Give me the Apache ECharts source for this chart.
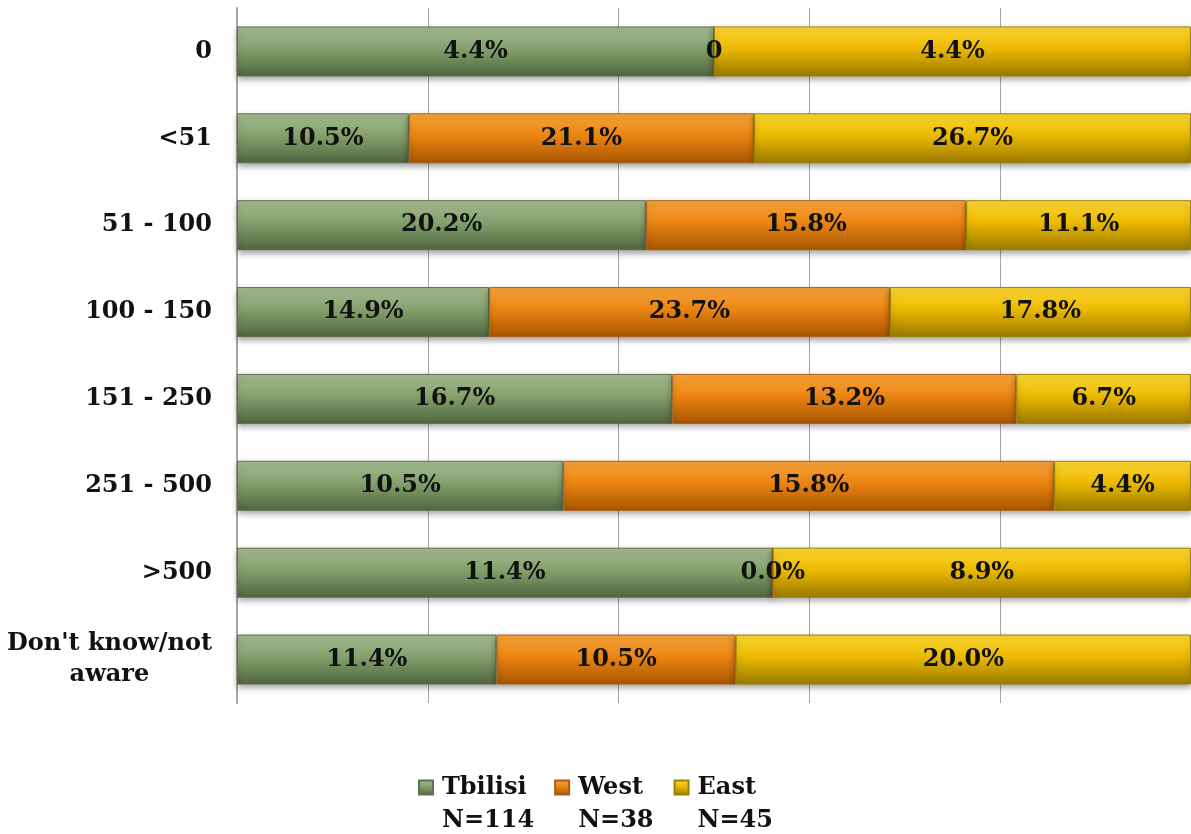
<!DOCTYPE html>
<html>
<head>
<meta charset="utf-8">
<script src="https://cdn.jsdelivr.net/npm/echarts@6/dist/echarts.min.js"></script>
<style>
html,body{margin:0;padding:0;background:#fff;}
#chart{width:1191px;height:834px;}
</style>
</head>
<body>
<div id="chart"></div>
<script>
const categories = ["0", "<51", "51 - 100", "100 - 150", "151 - 250", "251 - 500", ">500", "Don't know/not\naware"];
const seriesNames = ["Tbilisi", "West", "East"];
const sampleSizes = ["N=114", "N=38", "N=45"];
const tbilisi = [4.4, 10.5, 20.2, 14.9, 16.7, 10.5, 11.4, 11.4];
const west    = [0,   21.1, 15.8, 23.7, 13.2, 15.8, 0.0, 10.5];
const east    = [4.4, 26.7, 11.1, 17.8, 6.7, 4.4, 8.9, 20.0];
// label text overrides (the reference shows "0" instead of "0.0%" here)
const labelOverrides = { West: { 0: "0" } };

const raw = [tbilisi, west, east];
const rowSums = categories.map((c, i) => raw.reduce((s, arr) => s + arr[i], 0));

const FONT = "DejaVu Serif";
const FS = 24;
const styles = [
  { stops: ['#a6bc92', '#84a06c', '#50663e'], border: '#5c7150' },
  { stops: ['#f9a63a', '#ea8412', '#a85500'], border: '#a85f1c' },
  { stops: ['#ffd835', '#eab900', '#9a7800'], border: '#9c8200' }
];

function grad(st) {
  return new echarts.graphic.LinearGradient(0, 0, 0, 1, [
    { offset: 0, color: st[0] },
    { offset: 0.45, color: st[1] },
    { offset: 1, color: st[2] }
  ]);
}

const series = seriesNames.map((name, si) => ({
  name: name,
  type: 'bar',
  stack: 'total',
  barWidth: 50,
  data: raw[si].map((v, i) => ({ value: v / rowSums[i] * 100 })),
  itemStyle: {
    color: grad(styles[si].stops),
    borderColor: styles[si].border,
    borderWidth: 1,
    shadowColor: 'rgba(0,0,0,0.35)',
    shadowBlur: 6,
    shadowOffsetY: 3
  },
  label: {
    show: true,
    position: 'inside',
    color: '#111',
    fontFamily: FONT,
    fontWeight: 'bold',
    fontSize: FS,
    formatter: function (p) {
      const ov = labelOverrides[name];
      if (ov && ov[p.dataIndex] !== undefined) return ov[p.dataIndex];
      return raw[si][p.dataIndex].toFixed(1) + '%';
    }
  },
  emphasis: { disabled: true }
}));

const chart = echarts.init(document.getElementById('chart'));
chart.setOption({
  animation: false,
  backgroundColor: '#fff',
  grid: { left: 237, right: -5, top: 8, bottom: 131, containLabel: false },
  xAxis: {
    type: 'value',
    min: 0, max: 100, interval: 20,
    axisLabel: { show: false },
    axisTick: { show: false },
    axisLine: { show: false },
    splitLine: { show: true, lineStyle: { color: '#a6a6a6', width: 1 } }
  },
  yAxis: {
    type: 'category',
    inverse: true,
    data: categories,
    axisTick: { show: false },
    axisLine: { show: true, lineStyle: { color: '#a6a6a6', width: 2 } },
    axisLabel: {
      margin: 25,
      color: '#111',
      fontFamily: FONT,
      fontWeight: 'bold',
      fontSize: FS,
      lineHeight: 31,
      formatter: function (v) {
        return v.split('\n').map(s => '{c|' + s + '}').join('\n');
      },
      rich: {
        c: { align: 'center', fontFamily: FONT, fontWeight: 'bold', fontSize: FS, color: '#111', lineHeight: 31 }
      }
    }
  },
  legend: {
    data: seriesNames,
    left: 'center',
    top: 738,
    padding: 0,
    itemGap: 20,
    itemWidth: 14,
    itemHeight: 14,
    icon: 'rect',
    formatter: function (n) {
      return '{e| }\n{t|' + n + '}\n{t|' + sampleSizes[seriesNames.indexOf(n)] + '}';
    },
    textStyle: {
      color: '#111',
      fontFamily: FONT,
      fontWeight: 'bold',
      fontSize: FS,
      lineHeight: 33,
      rich: {
        e: { fontSize: FS, lineHeight: 33 },
        t: { fontFamily: FONT, fontWeight: 'bold', fontSize: FS, lineHeight: 33, color: '#111', padding: [0, 0, 0, 4] }
      }
    }
  },
  series: series
});
</script>
</body>
</html>
